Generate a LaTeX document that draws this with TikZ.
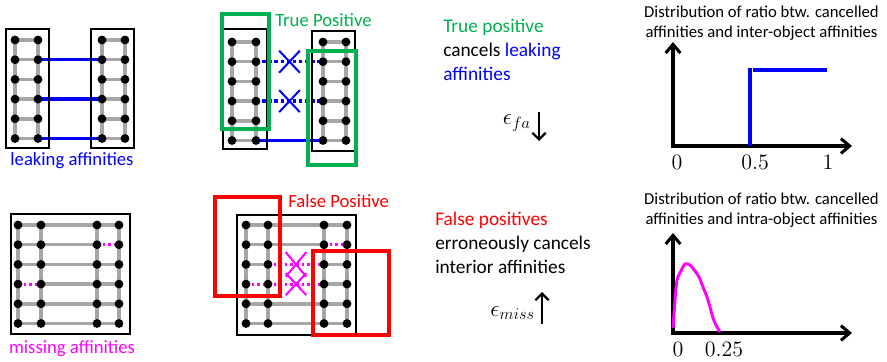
\RequirePackage{fix-cm}
\documentclass[tikz,border=0pt]{standalone}
\usepackage{fontspec}
\newfontfamily\calibri{Carlito}
\usepackage{xcolor}
\definecolor{leakblue}{RGB}{0, 0, 255}
\definecolor{truegreen}{RGB}{0, 176, 80}
\definecolor{falsered}{RGB}{255, 0, 0}
\definecolor{missmagenta}{RGB}{255, 0, 255}
\definecolor{affgray}{RGB}{166, 166, 166}
\usepackage{tikz}
\usetikzlibrary{arrows.meta, positioning, shapes.misc, backgrounds}

\tikzset{
    affdot/.style={circle, fill=black, inner sep=0pt, minimum size=6.6pt},
    aff/.style={affgray, line width=2.6pt},
    leak/.style={leakblue, line width=2.6pt},
    missing/.style={missmagenta, line width=2.4pt, dash pattern=on 2pt off 2.2pt},
    cancel/.style={cross out, draw, solid, line width=1.5pt, inner sep=0pt, minimum width=14pt, minimum height=15pt},
    objbox/.style={draw=black, line width=1pt},
    seedbox/.style={line width=3pt},
    sanslabel/.style={font=\calibri\fontsize{14}{17}\selectfont, inner sep=0pt},
    bodytext/.style={font=\calibri\fontsize{14.5}{18}\selectfont, inner sep=0pt, anchor=base west},
    graphtitle/.style={font=\calibri\fontsize{12.5}{15}\selectfont, align=center, inner sep=0pt},
    mathlabel/.style={font=\fontsize{17.5}{20}\selectfont, inner sep=0pt},
    ticklabel/.style={font=\fontsize{16.5}{19}\selectfont, inner sep=0pt},
    trend/.style={line width=1.6pt, -{Straight Barb[length=5pt, width=10pt]}},
    axis/.style={line width=2.3pt, line join=miter, arrows={Straight Barb[length=6.5pt, width=11pt]-Straight Barb[length=6.5pt, width=11pt]}}
}

\begin{document}
\begin{tikzpicture}[x=0.75pt, y=-0.75pt]
    \useasboundingbox (0,0) rectangle (887,361);

    % voxels of the four panels
    \foreach \p/\xa/\xb/\xc/\xd/\ytop in {A/15/38/102/125/40, B/232/256/323/346/42, C/18/41/97/119/225, D/246/268/324/347/225}
        \foreach \r in {1,...,6}
            \foreach \c/\xx in {1/\xa, 2/\xb, 3/\xc, 4/\xd}
                \node[affdot] (\p\c\r) at (\xx, {\ytop+19.7*(\r-1)}) {};

    \begin{scope}[on background layer]
        % affinities
        \foreach \p in {A,B,C,D}
            \foreach \c in {1,...,4}
                \foreach \r [count=\rr from 2] in {1,...,5}
                    \draw[aff] (\p\c\r.center) -- (\p\c\rr.center);
        \foreach \p in {A,B}
            \foreach \r in {1,...,6} {
                \draw[aff] (\p1\r.center) -- (\p2\r.center);
                \draw[aff] (\p3\r.center) -- (\p4\r.center);
            }
        \foreach \p in {C,D} {
            \foreach \r in {1,2,3,5,6} \draw[aff] (\p1\r.center) -- (\p2\r.center);
            \foreach \r in {1,3,4,5,6} \draw[aff] (\p3\r.center) -- (\p4\r.center);
        }
        \foreach \r in {1,...,6} \draw[aff] (C2\r.center) -- (C3\r.center);
        \foreach \r in {1,2,5,6} \draw[aff] (D2\r.center) -- (D3\r.center);

        % leaking affinities
        \foreach \r in {2,4,6} \draw[leak] (A2\r.center) -- (A3\r.center);
        \draw[leak] (B26.center) -- (B36.center);
        \draw[leak, dotted] (B22.center) -- (B32.center) node[midway, cancel] (crossT1) {};
        \draw[leak, dotted] (B24.center) -- (B34.center) node[midway, cancel] (crossT2) {};

        % missing affinities
        \foreach \p in {C,D} {
            \draw[missing] (\p32.center) -- (\p42.center);
            \draw[missing] (\p14.center) -- (\p24.center);
        }
        \draw[missing] (D23.center) -- (D33.center) node[midway, cancel, minimum height=17pt] (crossF1) {};
        \draw[missing] (D24.center) -- (D34.center) node[midway, cancel] (crossF2) {};
    \end{scope}

    % object boxes
    \draw[objbox] (6,29) rectangle (49,148);
    \draw[objbox] (91,29) rectangle (134,148);
    \draw[objbox] (223,29) rectangle (267,149);
    \draw[objbox] (312,31) rectangle (355,151);
    \draw[objbox] (11,214) rectangle (130,334);
    \draw[objbox] (237,215) rectangle (356,335);

    % detections
    \draw[seedbox, truegreen] (222,14) rectangle (269,129);
    \draw[seedbox, truegreen] (308,51) rectangle (356,165);
    \draw[seedbox, falsered] (215,197) rectangle (280,296);
    \draw[seedbox, falsered] (313,251) rectangle (389,335);

    \node[sanslabel, leakblue] (leaklabel) at (72,161) {leaking affinities};
    \node[sanslabel, missmagenta] (misslabel) at (72,349) {missing affinities};
    \node[sanslabel, truegreen, anchor=west] (tplabel) at (275,20) {True Positive};
    \node[sanslabel, falsered, anchor=west] (fplabel) at (288,201) {False Positive};

    % explanations
    \node[bodytext] (tp1) at (443,32) {\textcolor{truegreen}{True positive}};
    \node[bodytext] (tp2) at (443,56) {cancels \textcolor{leakblue}{leaking}};
    \node[bodytext, leakblue] (tp3) at (443,80) {affinities};
    \node[bodytext] (fp1) at (435,225) {\textcolor{falsered}{False positives}};
    \node[bodytext] (fp2) at (435,249) {erroneously cancels};
    \node[bodytext] (fp3) at (435,273) {interior affinities};

    \node[mathlabel, anchor=east] (efa) at (531,123) {$\epsilon_{fa}$};
    \coordinate (faTop) at (539,112);
    \coordinate (faBot) at (539,141);
    \draw[trend] (faTop) -- (faBot);
    \node[mathlabel, anchor=east] (emiss) at (535,313) {$\epsilon_{miss}$};
    \coordinate (missBot) at (542,324);
    \coordinate (missTop) at (542,292);
    \draw[trend] (missBot) -- (missTop);

    % distribution plots
    \node[graphtitle] (titleinter) at (761.5,23) {Distribution of ratio btw. cancelled\\affinities and inter-object affinities};
    \coordinate (o1) at (673,146);
    \coordinate (y1) at (673,42);
    \coordinate (x1) at (852,146);
    \draw[axis] (y1) -- (o1) -- (x1);
    \draw[leakblue, line width=2.3pt] (750,146) -- (750,68);
    \draw[leakblue, line width=2.3pt] (753,70) -- (827,70);
    \node[ticklabel] (t1a) at (677,162) {$0$};
    \node[ticklabel] (t1b) at (755,162) {$0.5$};
    \node[ticklabel] (t1c) at (828,162) {$1$};

    \node[graphtitle] (titleintra) at (761.5,210) {Distribution of ratio btw. cancelled\\affinities and intra-object affinities};
    \coordinate (o2) at (673,333);
    \coordinate (y2) at (673,233);
    \coordinate (x2) at (852,333);
    \draw[axis] (y2) -- (o2) -- (x2);
    \draw[missmagenta, line width=2.2pt] plot[smooth] coordinates {(673,328) (675,300) (677,280) (681,271) (685,264) (690,265) (695,271) (699,277) (703,287) (707,297) (710,307) (713,318) (716,325) (720,332)};
    \node[ticklabel] (t2a) at (678,349) {$0$};
    \node[ticklabel] (t2b) at (724,349) {$0.25$};
\end{tikzpicture}
\end{document}
